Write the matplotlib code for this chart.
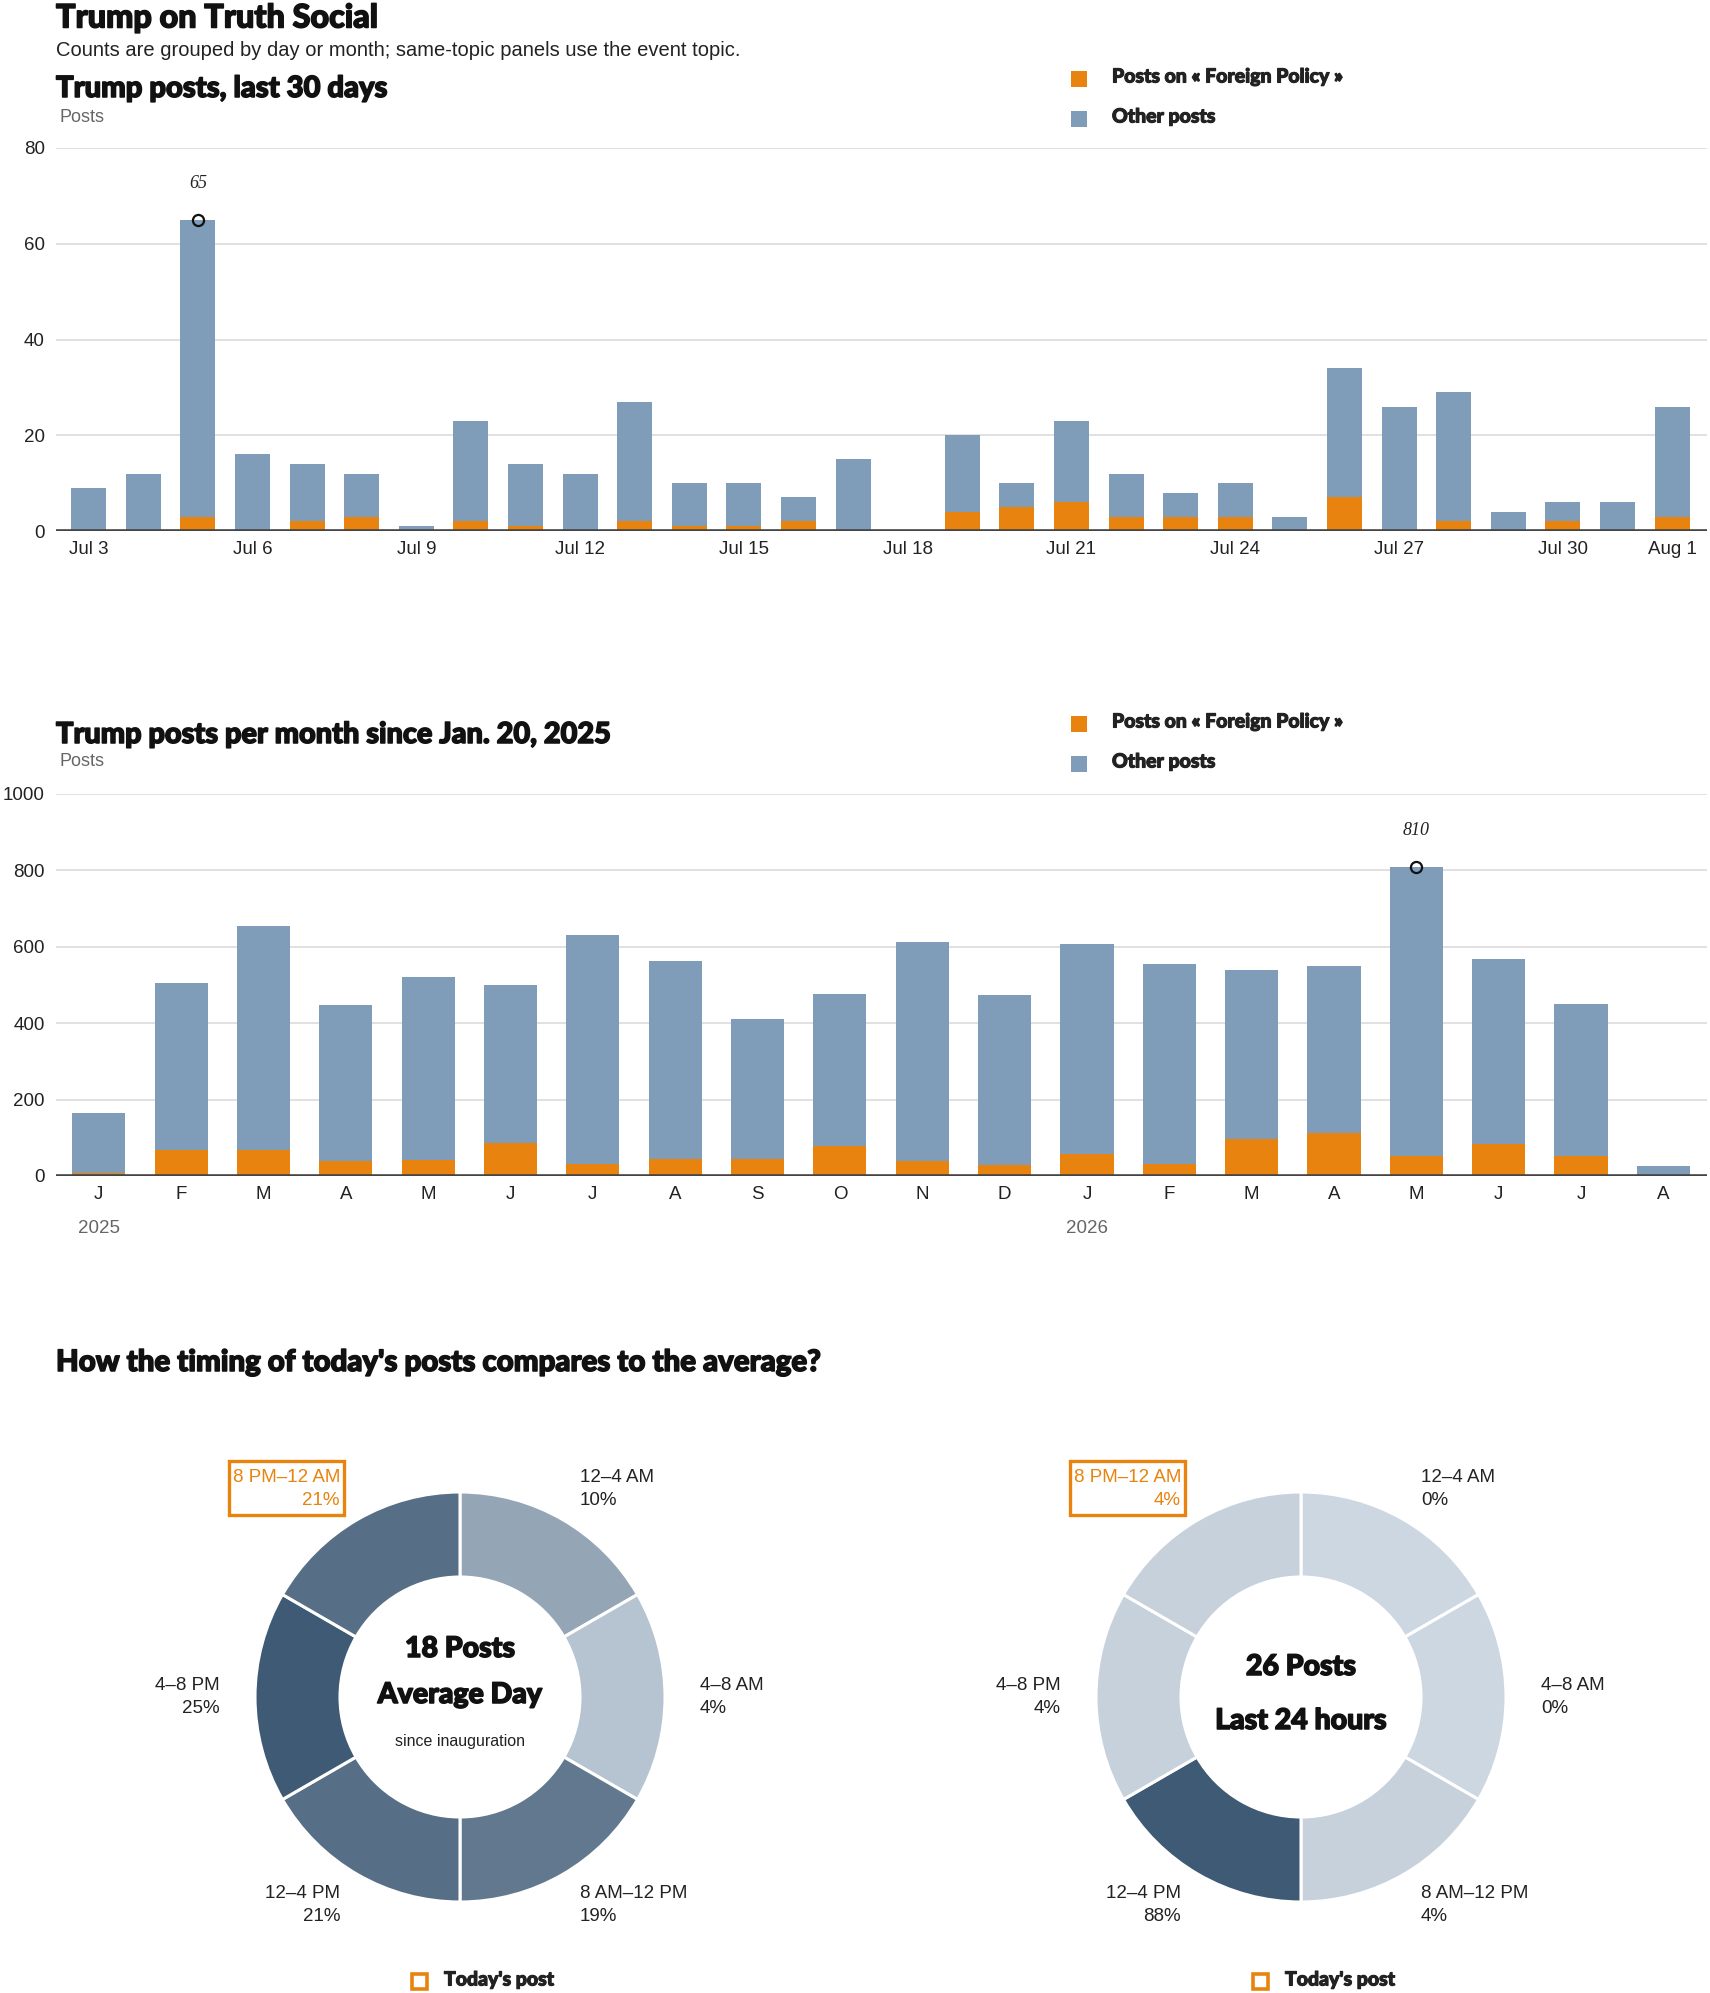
import matplotlib
matplotlib.use("Agg")
import matplotlib.pyplot as plt
from matplotlib.patches import Rectangle
from matplotlib import patheffects as pe
import numpy as np
import pandas as pd

# ---------------------------------------------------------------
# data
day_total = [9, 12, 65, 16, 14, 12, 1, 23, 14, 12, 27, 10, 10, 7, 15,
             0, 20, 10, 23, 12, 8, 10, 3, 34, 26, 29, 4, 6, 6, 26]
day_foreign = [0, 0, 3, 0, 2, 3, 0, 2, 1, 0, 2, 1, 1, 2, 0,
               0, 4, 5, 6, 3, 3, 3, 0, 7, 0, 2, 0, 2, 0, 3]
day_ticks = ["Jul 3", "Jul 6", "Jul 9", "Jul 12", "Jul 15", "Jul 18",
             "Jul 21", "Jul 24", "Jul 27", "Jul 30", "Aug 1"]

month_labels = ["J", "F", "M", "A", "M", "J", "J", "A", "S", "O", "N", "D",
                "J", "F", "M", "A", "M", "J", "J", "A"]
month_total = [165, 504, 654, 447, 520, 499, 630, 562, 412, 477, 612, 473,
               607, 556, 538, 549, 810, 568, 451, 26]
month_foreign = [7, 69, 69, 39, 43, 86, 32, 45, 45, 79, 38, 30,
                 58, 32, 96, 113, 53, 83, 53, 0]
year_labels = {0: "2025", 12: "2026"}

slots = ["12–4 AM", "4–8 AM", "8 AM–12 PM", "12–4 PM", "4–8 PM", "8 PM–12 AM"]
avg_pct = [10, 4, 19, 21, 25, 21]
today_pct = [0, 0, 4, 88, 4, 4]
avg_posts = 18
today_posts = 26
current_slot = "8 PM–12 AM"

# ---------------------------------------------------------------
ORANGE = "#e8830f"
BLUE = "#7f9db9"
GRID = "#dcdcdc"
INK = "#222222"
BLACK = "#111111"
GRAY = "#666666"
LIGHT = np.array([205, 215, 225]) / 255
DARK = np.array([63, 90, 117]) / 255

plt.rcParams["font.family"] = ["Liberation Sans", "DejaVu Sans"]
HEAVY = ["Lato", "Roboto", "DejaVu Sans"]
SERIF = ["Liberation Serif", "DejaVu Serif"]


def heavy(color=BLACK, w=1.1):
    # thicken the bold face a little, titles in the original are very heavy
    return dict(family=HEAVY, fontweight="black", color=color,
                path_effects=[pe.withStroke(linewidth=w, foreground=color)])


W, H = 1710, 1993
fig = plt.figure(figsize=(W / 100, H / 100), dpi=100)


def ftext(x, y, s, **kw):
    kw.setdefault("va", "center")
    return fig.text(x / W, 1 - y / H, s, **kw)


def axes_px(left, top, right, bottom):
    return fig.add_axes([left / W, 1 - bottom / H, (right - left) / W, (bottom - top) / H])


def legend_px(y0):
    items = [("Posts on « Foreign Policy »", ORANGE), ("Other posts", BLUE)]
    for i, (lab, col) in enumerate(items):
        yc = y0 + i * 40
        fig.add_artist(Rectangle((1071 / W, 1 - (yc + 8) / H), 16 / W, 16 / H,
                                 transform=fig.transFigure, color=col, lw=0))
        ftext(1112, yc - 2, lab, fontsize=14, **heavy(INK, 0.8))


def stacked(ax, total, foreign, ymax, step, width):
    total = np.array(total)
    foreign = np.array(foreign)
    x = np.arange(len(total))
    ax.bar(x, foreign, width=width, color=ORANGE, zorder=2)
    ax.bar(x, total - foreign, bottom=foreign, width=width, color=BLUE, zorder=2)
    ax.set_ylim(0, ymax)
    ax.set_yticks(np.arange(0, ymax + 1, step))
    ax.grid(axis="y", color=GRID, lw=1.2, zorder=0)
    ax.set_axisbelow(True)
    for s in ax.spines.values():
        s.set_visible(False)
    ax.axhline(0, color="#444444", lw=2.6, zorder=3)
    ax.tick_params(axis="both", length=0, labelsize=13.5, colors=INK)
    ax.tick_params(axis="y", pad=8)
    ax.tick_params(axis="x", pad=7)
    # peak marker
    i = int(np.argmax(total))
    ax.plot(i, total[i], "o", ms=8, mfc="none", mec=BLACK, mew=1.6, zorder=4)
    ax.annotate(str(total[i]), (i, total[i]), xytext=(0, 26), textcoords="offset points",
                ha="center", va="center", fontsize=13, style="italic",
                family=SERIF, color=INK)
    return x


# ---------------------------------------------------------------
# header
ftext(56, 18, "Trump on Truth Social", fontsize=23.3, **heavy())
ftext(56, 51, "Counts are grouped by day or month; same-topic panels use the event topic.",
      fontsize=14.5, color=INK)

# daily panel
ftext(56, 89, "Trump posts, last 30 days", fontsize=21, **heavy())
ftext(59, 117, "Posts", fontsize=13, color=GRAY)
legend_px(79)
ax1 = axes_px(56, 148, 1707, 531)
x1 = stacked(ax1, day_total, day_foreign, 80, 20, 0.64)
days = pd.date_range("2026-07-03", periods=len(day_total), freq="D")
day_names = [d.strftime("%b ") + str(d.day) for d in days]
ax1.set_xticks([day_names.index(t) for t in day_ticks])
ax1.set_xticklabels(day_ticks)
ax1.set_xlim(-0.6, len(day_total) - 0.36)

# monthly panel
ftext(56, 735, "Trump posts per month since Jan. 20, 2025", fontsize=20.8, **heavy())
ftext(59, 762, "Posts", fontsize=13, color=GRAY)
legend_px(724)
ax2 = axes_px(56, 794, 1707, 1176)
x2 = stacked(ax2, month_total, month_foreign, 1000, 200, 0.645)
ax2.set_xticks(x2)
ax2.set_xticklabels(month_labels)
ax2.set_xlim(-0.52, len(month_total) - 0.47)
for i, yr in year_labels.items():
    ax2.annotate(yr, (i, 0), xycoords=("data", "axes fraction"), xytext=(0, -38),
                 textcoords="offset points", ha="center", va="center", fontsize=13.5, color=GRAY)

# ---------------------------------------------------------------
# donuts
ftext(56, 1363, "How the timing of today's posts compares to the average?", fontsize=21.2, **heavy())

highlight = []


def donut(cx, cy, pct, big, small, sub):
    ax = fig.add_axes([(cx - 300) / W, 1 - (cy + 300) / H, 600 / W, 600 / H])
    pct = np.array(pct, dtype=float)
    t = pct / pct.max()
    cols = [tuple(LIGHT + (DARK - LIGHT) * v) for v in t]
    ax.pie(np.ones(len(pct)), radius=205, colors=cols, startangle=90, counterclock=False,
           wedgeprops=dict(width=85, edgecolor="white", linewidth=2.2))
    ax.set_xlim(-300, 300)
    ax.set_ylim(-300, 300)
    ax.set_aspect("equal")
    ax.axis("off")
    for k, (lab, p) in enumerate(zip(slots, pct)):
        ang = np.deg2rad(60 - 60 * k)
        lx, ly = 240 * np.cos(ang), 240 * np.sin(ang)
        ha = "left" if lx > 1 else "right"
        s = f"{lab}\n{int(p)}%"
        col = ORANGE if lab == current_slot else INK
        txt = ax.text(lx, ly, s, ha=ha, va="center", fontsize=13.5, color=col,
                      linespacing=1.45, multialignment=ha)
        if lab == current_slot:
            highlight.append(txt)
    if sub:
        ax.text(0, 48, big, ha="center", va="center", fontsize=20.5, **heavy())
        ax.text(0, 2, small, ha="center", va="center", fontsize=20.5, **heavy())
        ax.text(0, -44, sub, ha="center", va="center", fontsize=11.5, color=INK)
    else:
        ax.text(0, 30, big, ha="center", va="center", fontsize=20.5, **heavy())
        ax.text(0, -24, small, ha="center", va="center", fontsize=20.5, **heavy())
    # today's post key
    fig.add_artist(Rectangle(((cx - 48) / W, 1 - (cy + 292) / H), 15 / W, 15 / H,
                             transform=fig.transFigure, fc="none", ec=ORANGE, lw=2.6))
    ftext(cx - 16, cy + 283, "Today's post", fontsize=14, **heavy(INK, 0.8))


donut(460, 1697, avg_pct, f"{avg_posts} Posts", "Average Day", "since inauguration")
donut(1301, 1697, today_pct, f"{today_posts} Posts", "Last 24 hours", None)

# box round the current time slot label
fig.canvas.draw()
rend = fig.canvas.get_renderer()
for txt in highlight:
    bb = txt.get_window_extent(rend)
    x0, y0 = bb.x0 - 4, bb.y0 - 6
    fig.add_artist(Rectangle((x0 / W, y0 / H), (bb.width + 8) / W, (bb.height + 14) / H,
                             transform=fig.transFigure, fc="none", ec=ORANGE, lw=2.4))

fig.savefig("out.png", dpi=100)
